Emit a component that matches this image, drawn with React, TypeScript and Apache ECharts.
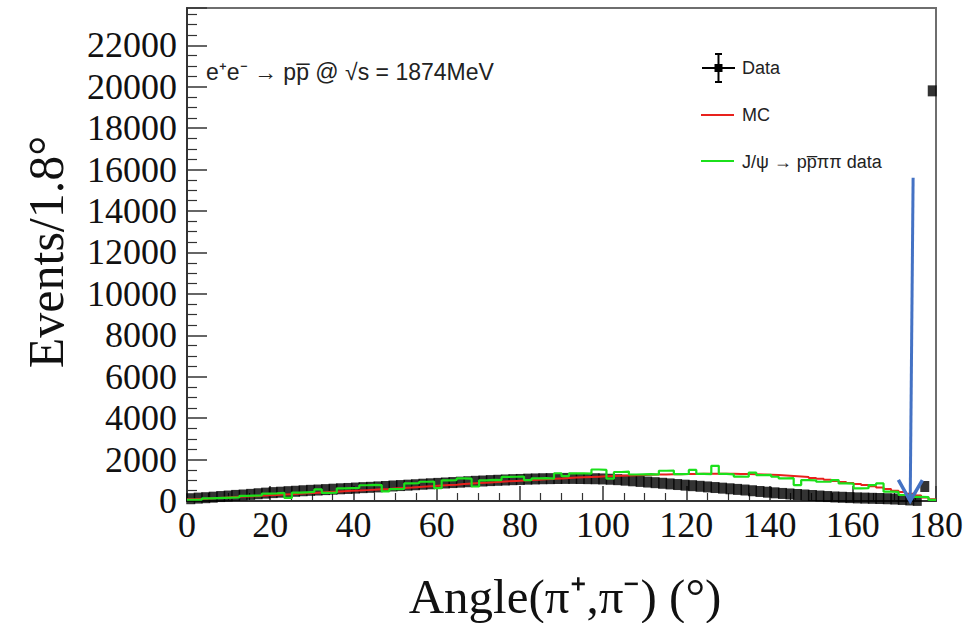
import React, { useEffect, useRef } from "react";
import * as echarts from "echarts";

// Histogram binning: 100 bins of 1.8 degrees over 0..180
const binWidth = 1.8;
const angleMin = 0;
const angleMax = 180;
const countMax = 23800;

// e+e- -> p pbar data (events per bin)
const dataCounts = [
  110, 140, 160, 185, 215, 240, 270, 290, 320, 350,
  380, 405, 425, 450, 470, 495, 515, 530, 550, 570,
  590, 605, 625, 645, 660, 680, 700, 725, 745, 765,
  785, 810, 830, 850, 870, 890, 910, 930, 950, 965,
  985, 1000, 1015, 1030, 1040, 1055, 1065, 1075, 1080, 1085,
  1090, 1090, 1085, 1080, 1075, 1065, 1050, 1030, 1005, 975,
  945, 915, 885, 855, 825, 795, 765, 740, 710, 680,
  650, 620, 590, 560, 530, 495, 460, 425, 395, 365,
  340, 315, 290, 265, 240, 215, 195, 180, 165, 150,
  140, 130, 120, 110, 95, 75, 50, 30, 700, 19800,
];

// Monte Carlo expectation
const mcCounts = [
  80, 100, 120, 140, 160, 180, 200, 215, 235, 255,
  275, 290, 310, 330, 350, 370, 390, 410, 430, 450,
  470, 490, 505, 525, 545, 565, 585, 610, 630, 650,
  675, 700, 720, 745, 770, 790, 815, 840, 865, 885,
  905, 925, 950, 970, 990, 1010, 1030, 1050, 1070, 1090,
  1110, 1130, 1145, 1160, 1175, 1190, 1205, 1220, 1235, 1245,
  1255, 1265, 1275, 1280, 1290, 1295, 1300, 1305, 1310, 1310,
  1315, 1315, 1310, 1305, 1300, 1290, 1280, 1265, 1250, 1230,
  1210, 1185, 1160, 1110, 1070, 1020, 970, 920, 870, 820,
  770, 710, 650, 580, 500, 430, 350, 260, 170, 80,
];

// J/psi -> p pbar pi pi data sample
const jpsiCounts = [
  60, 70, 130, 140, 150, 160, 170, 250, 260, 270,
  360, 370, 390, 150, 400, 420, 440, 560, 390, 400,
  610, 620, 630, 760, 780, 770, 460, 570, 580, 850,
  860, 930, 940, 620, 1000, 1010, 1090, 1080, 700, 1000,
  1020, 1010, 1160, 1170, 1180, 1010, 1090, 1100, 1080, 1340,
  1200, 1330, 1340, 1320, 1520, 1500, 1080, 1400, 1420, 1280,
  1290, 1300, 1280, 1460, 1470, 1300, 1310, 1500, 1310, 1300,
  1700, 1310, 1290, 1180, 1170, 1370, 1250, 1260, 1170, 1090,
  1100, 770, 1010, 1000, 930, 940, 1010, 850, 840, 610,
  620, 770, 850, 450, 440, 290, 280, 200, 190, 50,
];

// Cut marker arrow: from (angle, events) down to (angle, events)
const cutArrow = [174.5, 15600, 173.8, 0];

const xTickInterval = 20;
const yTickInterval = 2000;

const serif = "'Liberation Serif', 'Times New Roman', serif";
const sans = "'Liberation Sans', Arial, sans-serif";

// Points for a step outline: left bin edges plus the closing right edge
function histOutline(counts: number[]) {
  const pts = counts.map((v, i) => [angleMin + i * binWidth, v]);
  pts.push([angleMax, counts[counts.length - 1]]);
  return pts;
}

export default function App() {
  const ref = useRef<HTMLDivElement>(null);

  useEffect(() => {
    if (!ref.current) return;
    const chart = echarts.init(ref.current, null, { renderer: "svg" });

    const axisColor = "#333";

    const option: any = {
      animation: false,
      backgroundColor: "#fff",
      grid: {
        left: 187,
        right: 39,
        top: 8,
        bottom: 122,
        show: true,
        borderColor: "#6e6e6e",
        borderWidth: 2,
        backgroundColor: "transparent",
      },
      xAxis: {
        type: "value",
        min: angleMin,
        max: angleMax,
        interval: xTickInterval,
        axisLine: { show: true, lineStyle: { color: axisColor, width: 2 } },
        axisTick: { show: true, inside: true, length: 15, lineStyle: { color: axisColor, width: 1.5 } },
        minorTick: { show: true, splitNumber: 4, length: 8, lineStyle: { color: axisColor, width: 1.2 } },
        splitLine: { show: false },
        axisLabel: {
          fontFamily: serif,
          fontSize: 36,
          color: "#111",
          margin: 6,
          formatter: (v: number) => String(v),
        },
      },
      yAxis: {
        type: "value",
        min: 0,
        max: countMax,
        interval: yTickInterval,
        axisLine: { show: true, lineStyle: { color: axisColor, width: 2 } },
        axisTick: { show: true, inside: true, length: 20, lineStyle: { color: axisColor, width: 1.5 } },
        minorTick: { show: true, splitNumber: 4, length: 10, lineStyle: { color: axisColor, width: 1.2 } },
        splitLine: { show: false },
        axisLabel: {
          fontFamily: serif,
          fontSize: 36,
          color: "#111",
          margin: 10,
          showMaxLabel: false,
          formatter: (v: number) => String(v),
        },
      },
      series: [
        {
          name: "Data",
          type: "scatter",
          symbol: "rect",
          symbolSize: [9, 11],
          itemStyle: { color: "#000" },
          data: dataCounts.map((v, i) => [angleMin + (i + 0.5) * binWidth, v]),
          z: 2,
        },
        {
          name: "MC",
          type: "line",
          step: "end",
          showSymbol: false,
          lineStyle: { color: "#e8211d", width: 2 },
          data: histOutline(mcCounts),
          z: 3,
        },
        {
          name: "J/ψ → pp̅ππ data",
          type: "line",
          step: "end",
          showSymbol: false,
          lineStyle: { color: "#1be01b", width: 2.2 },
          data: histOutline(jpsiCounts),
          z: 4,
        },
        {
          name: "cut",
          type: "custom",
          clip: false,
          z: 6,
          encode: { x: [0, 2], y: [1, 3] },
          data: [cutArrow],
          renderItem: (_params: any, api: any) => {
            const p0 = api.coord([api.value(0), api.value(1)]);
            const p1 = api.coord([api.value(2), api.value(3)]);
            const dx = p1[0] - p0[0];
            const dy = p1[1] - p0[1];
            const len = Math.hypot(dx, dy) || 1;
            const ux = dx / len;
            const uy = dy / len;
            const headLen = 21;
            const headHalf = 12;
            const left = [p1[0] - ux * headLen - uy * headHalf, p1[1] - uy * headLen + ux * headHalf];
            const right = [p1[0] - ux * headLen + uy * headHalf, p1[1] - uy * headLen - ux * headHalf];
            const stroke = "#4472c4";
            return {
              type: "group",
              children: [
                {
                  type: "line",
                  shape: { x1: p0[0], y1: p0[1], x2: p1[0], y2: p1[1] },
                  style: { stroke, lineWidth: 3 },
                },
                {
                  type: "polyline",
                  shape: { points: [left, p1, right] },
                  style: { stroke, lineWidth: 3.5, fill: null, lineJoin: "miter" },
                },
              ],
            };
          },
        },
      ],
      graphic: [
        // Axis titles
        {
          type: "text",
          x: 46,
          y: 252,
          rotation: Math.PI / 2,
          style: {
            text: "Events/1.8°",
            font: `50px ${serif}`,
            fill: "#111",
            align: "center",
            verticalAlign: "middle",
          },
        },
        {
          type: "text",
          x: 565,
          y: 596,
          style: {
            text: "Angle(π⁺,π⁻) (°)",
            font: `49px ${serif}`,
            fill: "#111",
            align: "center",
            verticalAlign: "middle",
          },
        },
        // Process label
        {
          type: "text",
          x: 206,
          y: 72,
          style: {
            text: "e⁺e⁻ → pp̅ @ √s = 1874MeV",
            font: `23px ${sans}`,
            fill: "#222",
            align: "left",
            verticalAlign: "middle",
          },
        },
        // Legend
        {
          type: "group",
          children: [
            { type: "line", shape: { x1: 702, y1: 68, x2: 735, y2: 68 }, style: { stroke: "#000", lineWidth: 2 } },
            { type: "line", shape: { x1: 718.5, y1: 54, x2: 718.5, y2: 82 }, style: { stroke: "#000", lineWidth: 2 } },
            { type: "line", shape: { x1: 715, y1: 54, x2: 722, y2: 54 }, style: { stroke: "#000", lineWidth: 2 } },
            { type: "line", shape: { x1: 715, y1: 82, x2: 722, y2: 82 }, style: { stroke: "#000", lineWidth: 2 } },
            { type: "rect", shape: { x: 714.5, y: 64, width: 8, height: 8 }, style: { fill: "#000" } },
            {
              type: "text",
              x: 742,
              y: 68,
              style: { text: "Data", font: `18px ${sans}`, fill: "#222", verticalAlign: "middle" },
            },
            { type: "line", shape: { x1: 701, y1: 115, x2: 734, y2: 115 }, style: { stroke: "#e8211d", lineWidth: 2 } },
            {
              type: "text",
              x: 742,
              y: 115,
              style: { text: "MC", font: `18px ${sans}`, fill: "#222", verticalAlign: "middle" },
            },
            { type: "line", shape: { x1: 701, y1: 161, x2: 734, y2: 161 }, style: { stroke: "#1be01b", lineWidth: 2 } },
            {
              type: "text",
              x: 742,
              y: 162,
              style: { text: "J/ψ → pp̅ππ data", font: `18px ${sans}`, fill: "#222", verticalAlign: "middle" },
            },
          ],
        },
      ],
    };

    chart.setOption(option);
    return () => chart.dispose();
  }, []);

  return (
    <div
      ref={ref}
      style={{ position: "absolute", left: 0, top: 0, width: 975, height: 623, background: "#fff" }}
    />
  );
}
